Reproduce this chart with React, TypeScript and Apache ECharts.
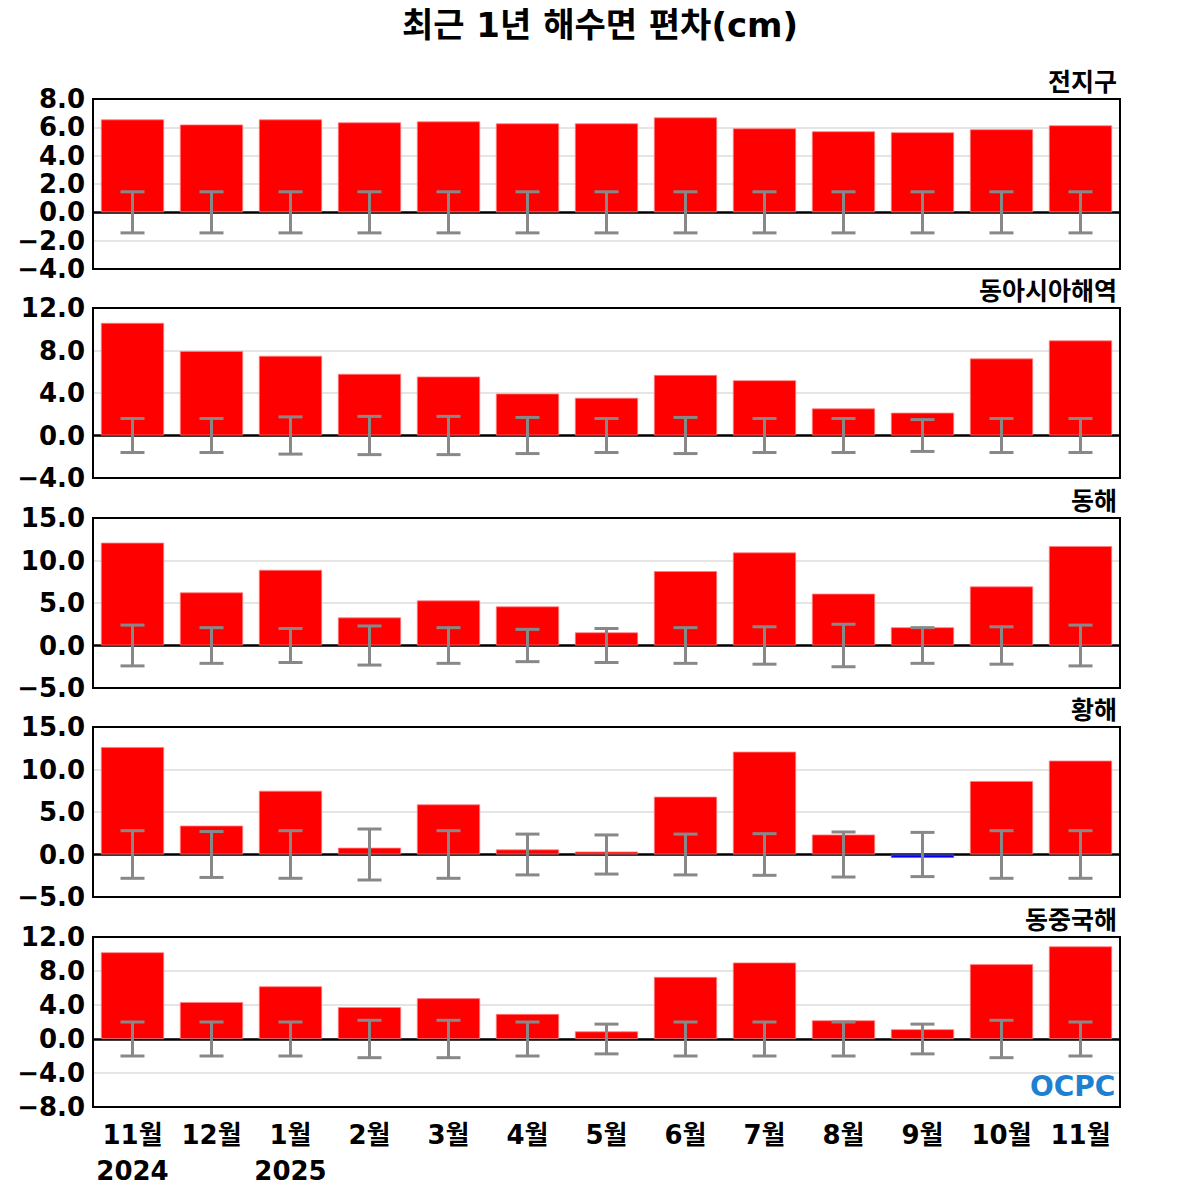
import React, { useEffect, useRef } from "react";
import * as echarts from "echarts";

const months = ["11월", "12월", "1월", "2월", "3월", "4월", "5월", "6월", "7월", "8월", "9월", "10월", "11월"];
const panelNames = ["전지구", "동아시아해역", "동해", "황해", "동중국해"];

const globalVals = [6.56, 6.2, 6.56, 6.35, 6.42, 6.28, 6.28, 6.7, 5.93, 5.72, 5.65, 5.86, 6.14];
const globalErr = [1.45, 1.45, 1.45, 1.45, 1.45, 1.45, 1.45, 1.45, 1.45, 1.45, 1.45, 1.45, 1.45];

const eastAsiaVals = [10.6, 7.95, 7.5, 5.8, 5.55, 3.95, 3.55, 5.7, 5.2, 2.55, 2.15, 7.25, 8.95];
const eastAsiaErr = [1.6, 1.6, 1.75, 1.8, 1.8, 1.7, 1.6, 1.7, 1.6, 1.6, 1.5, 1.6, 1.6];

const eastSeaVals = [12.1, 6.25, 8.9, 3.3, 5.3, 4.6, 1.55, 8.75, 10.95, 6.1, 2.15, 6.95, 11.7];
const eastSeaErr = [2.4, 2.1, 2.0, 2.3, 2.1, 1.9, 2.0, 2.1, 2.2, 2.5, 2.1, 2.2, 2.4];

const yellowSeaVals = [12.65, 3.4, 7.5, 0.8, 5.9, 0.6, 0.35, 6.8, 12.1, 2.35, -0.4, 8.65, 11.05];
const yellowSeaErr = [2.8, 2.7, 2.8, 3.0, 2.8, 2.4, 2.3, 2.4, 2.45, 2.65, 2.6, 2.8, 2.8];

const ecsVals = [10.2, 4.35, 6.2, 3.75, 4.8, 2.95, 0.9, 7.3, 9.0, 2.2, 1.15, 8.8, 10.9];
const ecsErr = [2.0, 2.0, 2.0, 2.2, 2.2, 2.0, 1.75, 2.0, 2.0, 2.0, 1.75, 2.2, 2.0];

const panelVals = [globalVals, eastAsiaVals, eastSeaVals, yellowSeaVals, ecsVals];
const panelErrs = [globalErr, eastAsiaErr, eastSeaErr, yellowSeaErr, ecsErr];
const yMins = [-4, -4, -5, -5, -8];
const yMaxs = [8, 12, 15, 15, 12];
const yIntervals = [2, 4, 5, 5, 4];

const FONT = "'DejaVu Sans', 'Noto Sans CJK KR', sans-serif";
const gridTops = [99, 308, 518, 727, 937];
const gridH = 170;
const gridLeft = 93;
const gridRight = 80;

export default function App() {
  const ref = useRef<HTMLDivElement>(null);
  useEffect(() => {
    if (!ref.current) return;
    const chart = echarts.init(ref.current, null, { renderer: "svg" });
    const grids: any[] = [];
    const xAxes: any[] = [];
    const yAxes: any[] = [];
    const series: any[] = [];
    const graphics: any[] = [];
    for (let i = 0; i < 5; i++) {
      grids.push({ left: gridLeft, right: gridRight, top: gridTops[i], height: gridH });
      xAxes.push({
        type: "category",
        gridIndex: i,
        data: months,
        axisLine: { show: false },
        axisTick: { show: true, inside: true, length: 6, alignWithLabel: true, lineStyle: { color: "#333", width: 1.5 } },
        axisLabel:
          i === 4
            ? {
                show: true,
                interval: 0,
                fontFamily: FONT,
                fontWeight: "bold",
                fontSize: 26,
                color: "#000",
                lineHeight: 36,
                margin: 10,
                formatter: (v: string, idx: number) => (idx === 0 ? v + "\n2024" : idx === 2 ? v + "\n2025" : v),
              }
            : { show: false },
        splitLine: { show: false },
      });
      yAxes.push({
        type: "value",
        gridIndex: i,
        min: yMins[i],
        max: yMaxs[i],
        interval: yIntervals[i],
        axisLine: { show: false },
        axisTick: { show: false },
        splitLine: { show: true, lineStyle: { color: "#dddddd", width: 1.5 } },
        axisLabel: {
          fontFamily: FONT,
          fontWeight: "bold",
          fontSize: 26,
          color: "#000",
          margin: 8,
          formatter: (v: number) => (v < 0 ? "\u2212" : "") + Math.abs(v).toFixed(1),
        },
      });
      const vals = panelVals[i];
      const errs = panelErrs[i];
      series.push({
        type: "bar",
        xAxisIndex: i,
        yAxisIndex: i,
        barCategoryGap: "20%",
        data: vals.map((v) => ({
          value: v,
          itemStyle: { color: v < 0 ? "#0000ff" : "#ff0000", borderColor: v < 0 ? "#6060ff" : "#ff8080", borderWidth: 0.8 },
        })),
        z: 3,
        markLine: {
          silent: true,
          symbol: "none",
          label: { show: false },
          lineStyle: { color: "#000", width: 2.5, type: "solid" },
          data: [{ yAxis: 0 }],
          z: 2,
        },
      });
      series.push({
        type: "custom",
        xAxisIndex: i,
        yAxisIndex: i,
        z: 5,
        data: errs.map((e, idx) => [idx, e]),
        renderItem: (params: any, api: any) => {
          const idx = api.value(0);
          const e = api.value(1);
          const top = api.coord([idx, e]);
          const bot = api.coord([idx, -e]);
          const hw = 12;
          const style = { stroke: "#888888", lineWidth: 3 };
          return {
            type: "group",
            children: [
              { type: "line", shape: { x1: top[0], y1: top[1], x2: bot[0], y2: bot[1] }, style },
              { type: "line", shape: { x1: top[0] - hw, y1: top[1], x2: top[0] + hw, y2: top[1] }, style },
              { type: "line", shape: { x1: bot[0] - hw, y1: bot[1], x2: bot[0] + hw, y2: bot[1] }, style },
            ],
          };
        },
      });
      graphics.push({
        type: "rect",
        z: 20,
        silent: true,
        shape: { x: gridLeft, y: gridTops[i], width: 1200 - gridLeft - gridRight, height: gridH },
        style: { fill: "none", stroke: "#000", lineWidth: 2 },
      });
      graphics.push({
        type: "text",
        right: 83,
        top: gridTops[i] - 29,
        style: { text: panelNames[i], font: `bold 25px ${FONT}`, fill: "#000" },
      });
    }
    graphics.push({
      type: "text",
      left: 1030,
      top: 1072,
      z: 10,
      style: {
        text: "OCPC",
        font: `bold 28px ${FONT}`,
        fill: "#1f7fd0",
      },
    });
    chart.setOption({
      animation: false,
      backgroundColor: "#fff",
      title: {
        text: "최근 1년 해수면 편차(cm)",
        left: "center",
        top: 3,
        textStyle: { fontFamily: FONT, fontWeight: "bold", fontSize: 34, color: "#000" },
      },
      grid: grids,
      xAxis: xAxes,
      yAxis: yAxes,
      series,
      graphic: graphics,
    });
    return () => chart.dispose();
  }, []);
  return <div ref={ref} style={{ position: "absolute", left: 0, top: 0, width: 1200, height: 1200 }} />;
}
